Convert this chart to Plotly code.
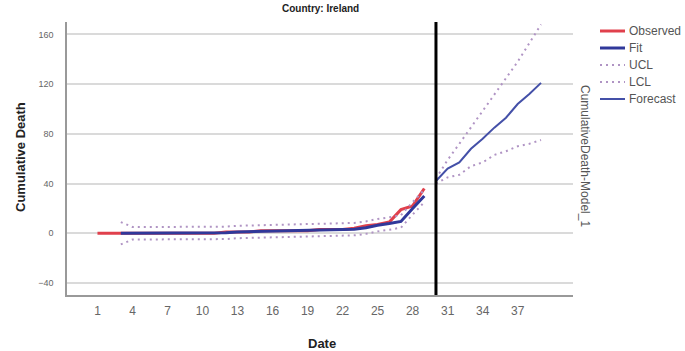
import plotly.graph_objects as go

# ---- data ----
obs_days = list(range(1, 30))
observed = [0]*11 + [1, 1, 1, 2, 2, 2, 2, 2, 3, 3, 3, 4, 6, 7, 9, 19, 22, 36]

fit_days = list(range(3, 30))
fit = [0, 0, 0, 0, 0, 0, 0, 0, 0, 0.3, 1, 1.2, 1.3, 2, 2.2, 2.2, 2.2, 2.3, 3, 3.2, 3.3,
       4.5, 6.5, 7.8, 9.5, 20, 30]
ucl_fit = [9, 5, 5, 5, 5, 5, 5, 5, 5, 5.3, 6, 6.2, 6.3, 7, 7.2, 7.2, 7.2, 7.3, 8, 8.2, 8.3,
           9.5, 11.5, 12.8, 14.5, 25, 35]
lcl_fit = [-9, -5, -5, -5, -5, -5, -5, -5, -5, -4.7, -4, -3.8, -3.7, -3, -2.8, -2.8, -2.8,
           -2.7, -2, -1.8, -1.7, -0.5, 1.5, 2.8, 4.5, 15, 25]

fc_days = list(range(30, 40))
forecast = [42, 52, 57, 68, 76, 85, 93, 104, 112, 121]
ucl_fc = [44, 59, 72, 85, 98, 111, 124, 138, 153, 168]
lcl_fc = [40, 45, 47, 54, 57, 63, 66, 70, 72, 75]

forecast_origin = 30
x_ticks = list(range(1, 38, 3))
y_ticks = [-40, 0, 40, 80, 120, 160]
legend_names = ["Observed", "Fit", "UCL", "LCL", "Forecast"]

RED = "#e0404c"
BLUE = "#30389a"
FBLUE = "#4450a8"
CL = "#b094c4"
FONT = "Arial, Liberation Sans, sans-serif"
DOT = "2px,4px"

W, H = 685, 351
ML, MR, MT, MB = 67, 112, 22, 56
PW, PH = W - ML - MR, H - MT - MB


def px_x(p):
    return (p - ML) / PW


def px_y(p):
    return (H - MB - p) / PH


styles = {
    "Observed": dict(color=RED, width=3),
    "Fit": dict(color=BLUE, width=3),
    "UCL": dict(color=CL, width=2, dash=DOT),
    "LCL": dict(color=CL, width=2, dash=DOT),
    "Forecast": dict(color=FBLUE, width=2),
}

fig = go.Figure()
fig.add_trace(go.Scatter(x=obs_days, y=observed, mode="lines", name="Observed",
                         line=styles["Observed"], showlegend=False))
fig.add_trace(go.Scatter(x=fit_days, y=fit, mode="lines", name="Fit",
                         line=styles["Fit"], showlegend=False))
fig.add_trace(go.Scatter(x=fit_days, y=ucl_fit, mode="lines", name="UCL",
                         line=styles["UCL"], showlegend=False))
fig.add_trace(go.Scatter(x=fit_days, y=lcl_fit, mode="lines", name="LCL",
                         line=styles["LCL"], showlegend=False))
fig.add_trace(go.Scatter(x=fc_days, y=forecast, mode="lines", name="Forecast",
                         line=styles["Forecast"], showlegend=False))
fig.add_trace(go.Scatter(x=fc_days, y=ucl_fc, mode="lines", name="UCL",
                         line=styles["UCL"], showlegend=False))
fig.add_trace(go.Scatter(x=fc_days, y=lcl_fc, mode="lines", name="LCL",
                         line=styles["LCL"], showlegend=False))

fig.add_shape(type="line", xref="x", yref="paper", x0=forecast_origin, x1=forecast_origin,
              y0=0, y1=1, line=dict(color="black", width=3))

annotations = [
    dict(text="<b>Country: Ireland</b>", xref="paper", yref="paper", x=0.5, y=px_y(9),
         xanchor="center", yanchor="middle", showarrow=False,
         font=dict(size=10, color="#222")),
    dict(text="<b>Cumulative Death</b>", xref="paper", yref="paper", x=px_x(20),
         y=px_y(157), xanchor="center", yanchor="middle", textangle=-90, showarrow=False,
         font=dict(size=13, color="#222")),
    dict(text="<b>Date</b>", xref="paper", yref="paper", x=px_x(322), y=px_y(343),
         xanchor="center", yanchor="middle", showarrow=False,
         font=dict(size=13, color="#222")),
    dict(text="CumulativeDeath-Model_1", xref="paper", yref="paper", x=px_x(585),
         y=px_y(156), xanchor="center", yanchor="middle", textangle=90, showarrow=False,
         font=dict(size=12, color="#555")),
]

# legend (swatch + label) to the right of the plot
for i, name in enumerate(legend_names):
    yy = px_y(31 + 17 * i)
    st = styles[name]
    fig.add_shape(type="line", xref="paper", yref="paper", x0=px_x(600), x1=px_x(625),
                  y0=yy, y1=yy, line=st)
    annotations.append(dict(text=name, xref="paper", yref="paper", x=px_x(627), y=yy,
                            xanchor="left", yanchor="middle", showarrow=False,
                            font=dict(size=12, color="#555")))

fig.update_layout(
    width=W, height=H,
    margin=dict(l=ML, r=MR, t=MT, b=MB),
    paper_bgcolor="white", plot_bgcolor="white",
    font=dict(family=FONT, color="#555"),
    showlegend=False,
    annotations=annotations,
)
fig.update_xaxes(range=[-1.61, 41.74], tickvals=x_ticks, showgrid=False, zeroline=False,
                 showline=True, linecolor="#999", linewidth=2, ticks="",
                 ticklabelstandoff=4, automargin=False,
                 tickfont=dict(size=12, color="#666"))
fig.update_yaxes(range=[-49.7, 170], tickvals=y_ticks, showgrid=True, gridcolor="#dadada",
                 gridwidth=1.5, zeroline=False, showline=True, linecolor="#999",
                 linewidth=1.5, ticks="", ticklabelstandoff=10, automargin=False,
                 tickfont=dict(size=9, color="#666"))

fig.write_html("out.html", config={"displayModeBar": False},
               post_script="document.body.style.margin='0px';")
